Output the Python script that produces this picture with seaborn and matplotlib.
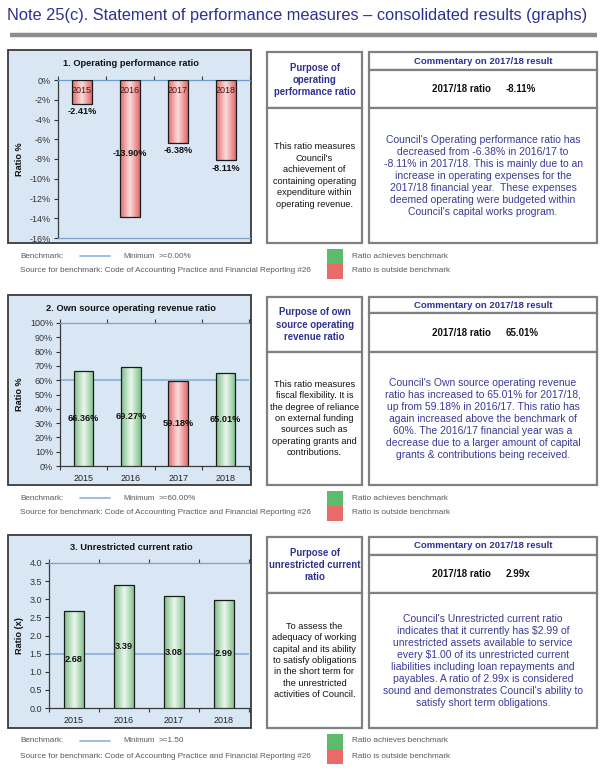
import numpy as np
import matplotlib
matplotlib.use("Agg")
import matplotlib.pyplot as plt
from matplotlib.patches import Rectangle
from matplotlib.colors import LinearSegmentedColormap
import seaborn as sns

# ---------------- data ----------------
years = ["2015", "2016", "2017", "2018"]
op_perf = [-2.41, -13.90, -6.38, -8.11]
own_source = [66.36, 69.27, 59.18, 65.01]
unrestricted = [2.68, 3.39, 3.08, 2.99]
benchmarks = [0.0, 60.0, 1.5]

chart_titles = ["1. Operating performance ratio",
                "2. Own source operating revenue ratio",
                "3. Unrestricted current ratio"]
ylabels = ["Ratio %", "Ratio %", "Ratio (x)"]
bench_text = [">=0.00%", ">=60.00%", ">=1.50"]
ratio_text = ["-8.11%", "65.01%", "2.99x"]

purpose_head = ["Purpose of\noperating\nperformance ratio",
                "Purpose of own\nsource operating\nrevenue ratio",
                "Purpose of\nunrestricted current\nratio"]
purpose_body = ["This ratio measures\nCouncil's\nachievement of\ncontaining operating\nexpenditure within\noperating revenue.",
                "This ratio measures\nfiscal flexibility. It is\nthe degree of reliance\non external funding\nsources such as\noperating grants and\ncontributions.",
                "To assess the\nadequacy of working\ncapital and its ability\nto satisfy obligations\nin the short term for\nthe unrestricted\nactivities of Council."]
commentary = ["Council's Operating performance ratio has\ndecreased from -6.38% in 2016/17 to\n-8.11% in 2017/18. This is mainly due to an\nincrease in operating expenses for the\n2017/18 financial year.  These expenses\ndeemed operating were budgeted within\nCouncil's capital works program.",
              "Council's Own source operating revenue\nratio has increased to 65.01% for 2017/18,\nup from 59.18% in 2016/17. This ratio has\nagain increased above the benchmark of\n60%. The 2016/17 financial year was a\ndecrease due to a larger amount of capital\ngrants & contributions being received.",
              "Council's Unrestricted current ratio\nindicates that it currently has \\$2.99 of\nunrestricted assets available to service\nevery \\$1.00 of its unrestricted current\nliabilities including loan repayments and\npayables. A ratio of 2.99x is considered\nsound and demonstrates Council's ability to\nsatisfy short term obligations."]

# ---------------- style ----------------
sns.set_style("white")
plt.rcParams['font.family'] = ['Liberation Sans', 'DejaVu Sans']

W, H = 605, 784
fig = plt.figure(figsize=(W / 100, H / 100), dpi=100)
bg = fig.add_axes([0, 0, 1, 1])
bg.set_xlim(0, W)
bg.set_ylim(H, 0)
bg.axis('off')

NAVY = "#2e3192"
COMM = "#3b3a96"
GREY_TXT = "#5a5a5a"
CHART_BG = "#d9e7f4"
BOX_EDGE = "#808080"
BENCH_C = "#8db2dc"
GREEN_EDGE, GREEN_MID = "#7dbf88", "#eaf6ec"
RED_EDGE, RED_MID = "#e26a6a", "#fadada"


def ax_rect(x0, y0, x1, y1):
    return [x0 / W, 1 - y1 / H, (x1 - x0) / W, (y1 - y0) / H]


# Title + rule
bg.text(7, 15, "Note 25(c). Statement of performance measures \u2013 consolidated results (graphs)",
        fontsize=11.8, color=NAVY, va='center', ha='left')
bg.plot([10, 597], [35, 35], color="#8c8c8c", lw=3.2, solid_capstyle='butt')

# section layout (pixels)
sections = [
    dict(top=50, bot=243, ax=(58, 80, 250, 238), phead=108, cdiv=70),
    dict(top=295, bot=485, ax=(60, 323, 249, 466), phead=352, cdiv=313),
    dict(top=535, bot=728, ax=(49, 563, 249, 708), phead=593, cdiv=555),
]
datasets = [op_perf, own_source, unrestricted]
ylims = [(-16, 0), (0, 100), (0, 4)]
ysteps = [2, 10, 0.5]

for i, sec in enumerate(sections):
    vals = datasets[i]
    bench = benchmarks[i]
    top, bot = sec['top'], sec['bot']

    # chart frame
    bg.add_patch(Rectangle((8, top), 243, bot - top, facecolor=CHART_BG,
                           edgecolor="#3a3a3a", lw=1.3))
    bg.text(131, top + 13, chart_titles[i], fontsize=6.7, fontweight='bold',
            ha='center', va='center', color="#111111")
    ax0, ay0, ax1, ay1 = sec['ax']
    bg.text(20, (ay0 + ay1) / 2, ylabels[i], rotation=90, fontsize=6.6,
            fontweight='bold', ha='center', va='center', color="#111111")

    ax = fig.add_axes(ax_rect(*sec['ax']))
    ax.set_facecolor(CHART_BG)
    ok = [v >= bench for v in vals]
    pal = {y: ("#b9dfbf" if o else "#eea5a5") for y, o in zip(years, ok)}
    sns.barplot(x=years, y=vals, hue=years, palette=pal, legend=False,
                width=0.41, edgecolor="#1b1b1b", linewidth=0.9, ax=ax, zorder=3)

    # gradient fill
    grad = 1 - np.abs(np.linspace(-1, 1, 64))
    grad = grad[np.newaxis, :]
    for p, o in zip(ax.patches, ok):
        cm = LinearSegmentedColormap.from_list(
            "g", [GREEN_EDGE, GREEN_MID] if o else [RED_EDGE, RED_MID])
        x0, y0, w, h = p.get_x(), p.get_y(), p.get_width(), p.get_height()
        im = ax.imshow(grad, extent=[x0, x0 + w, min(y0, y0 + h), max(y0, y0 + h)],
                       aspect='auto', cmap=cm, zorder=2.9, interpolation='bicubic')
        im.set_clip_path(p)
        p.set_facecolor('none')

    lo, hi = ylims[i]
    ax.set_xlim(-0.5, 3.5)
    ax.set_ylim(lo, hi)
    ax.set_yticks(np.arange(lo, hi + ysteps[i] / 2, ysteps[i]))
    if i == 2:
        ax.set_yticklabels([f"{t:.1f}" for t in ax.get_yticks()])
    else:
        ax.set_yticklabels([f"{t:.0f}%" for t in ax.get_yticks()])
    ax.tick_params(axis='y', labelsize=6.5, colors="#333333", length=3,
                   width=0.8, pad=2, left=True, direction='out')
    ax.set_xlabel("")
    ax.set_ylabel("")
    ax.set_xticks(range(4))
    ax.set_xticks(np.arange(-0.5, 4, 1), minor=True)

    for s in ['left', 'bottom', 'top']:
        ax.spines[s].set_visible(True)
        ax.spines[s].set_color("#3a3a3a")
        ax.spines[s].set_linewidth(0.9)
    ax.spines['right'].set_visible(False)

    if i == 0:
        ax.spines['top'].set_color("#6f9bd0")
        ax.spines['bottom'].set_color("#7d9fc8")
        ax.tick_params(axis='x', which='major', top=False, bottom=False,
                       labeltop=False, labelbottom=False)
        ax.tick_params(axis='x', which='minor', top=True, bottom=False, length=3,
                       direction='out', color="#3a3a3a", width=0.8)
        for k, (yr, v) in enumerate(zip(years, vals)):
            ax.annotate(yr, (k, 0), xytext=(0, -4), textcoords='offset points',
                        ha='center', va='top', fontsize=6.5, color="#4a1414",
                        zorder=6, annotation_clip=False)
            ypos = v / 2 if v < -10 else v - 0.35
            ax.text(k, ypos, f"{v:.2f}%", ha='center', va='top', fontsize=6.6,
                    fontweight='bold', color="#111111", zorder=5)
    else:
        ax.spines['top'].set_color("#7d9fc8")
        ax.axhline(bench, color=BENCH_C, lw=1.3, zorder=2.5)
        ax.tick_params(axis='x', which='major', bottom=False, top=False,
                       labelsize=6.5, colors="#222222", pad=2)
        ax.tick_params(axis='x', which='minor', bottom=True, top=True,
                       length=3, direction='out', color="#3a3a3a", width=0.8)
        for k, v in enumerate(vals):
            lab = f"{v:.2f}%" if i == 1 else f"{v:.2f}"
            ax.text(k, v / 2, lab, ha='center', va='center', fontsize=6.6,
                    fontweight='bold', color="#111111", zorder=5)

    # purpose box
    bg.add_patch(Rectangle((267, top + 2), 95, sec['phead'] - top - 2,
                           facecolor='white', edgecolor=BOX_EDGE, lw=1.6))
    bg.add_patch(Rectangle((267, sec['phead']), 95, bot - sec['phead'],
                           facecolor='white', edgecolor=BOX_EDGE, lw=1.6))
    bg.text(314.5, (top + 2 + sec['phead']) / 2, purpose_head[i], ha='center',
            va='center', fontsize=6.9, fontweight='bold', color=NAVY,
            linespacing=1.3)
    bg.text(314.5, (sec['phead'] + bot) / 2, purpose_body[i], ha='center',
            va='center', fontsize=6.6, color="#111111", linespacing=1.35)

    # commentary box
    bg.add_patch(Rectangle((369, top + 2), 228, sec['cdiv'] - top - 2,
                           facecolor='white', edgecolor=BOX_EDGE, lw=1.6))
    bg.add_patch(Rectangle((369, sec['cdiv']), 228, sec['phead'] - sec['cdiv'],
                           facecolor='white', edgecolor=BOX_EDGE, lw=1.6))
    bg.add_patch(Rectangle((369, sec['phead']), 228, bot - sec['phead'],
                           facecolor='white', edgecolor=BOX_EDGE, lw=1.6))
    bg.text(483, (top + 2 + sec['cdiv']) / 2, "Commentary on 2017/18 result",
            ha='center', va='center', fontsize=6.8, fontweight='bold', color=NAVY)
    rowy = (sec['cdiv'] + sec['phead']) / 2
    bg.text(491, rowy, "2017/18 ratio", ha='right', va='center', fontsize=7,
            fontweight='bold', color="#111111")
    bg.text(506, rowy, ratio_text[i], ha='left', va='center', fontsize=7,
            fontweight='bold', color="#111111")
    bg.text(483, (sec['phead'] + bot) / 2, commentary[i], ha='center',
            va='center', fontsize=7.5, color=COMM, linespacing=1.25)

    # footer
    fy = bot + 13
    bg.text(20, fy, "Benchmark:", fontsize=5.9, color=GREY_TXT, va='center')
    bg.plot([80, 110], [fy, fy], color=BENCH_C, lw=1.2)
    bg.text(123, fy, "Minimum", fontsize=5.6, color=GREY_TXT, va='center')
    bg.text(159, fy, bench_text[i], fontsize=5.9, color=GREY_TXT, va='center')
    bg.text(20, fy + 15, "Source for benchmark: Code of Accounting Practice and Financial Reporting #26",
            fontsize=5.9, color=GREY_TXT, va='center')
    bg.add_patch(Rectangle((327, fy - 7), 16, 15, facecolor="#5cbb6e", edgecolor='none'))
    bg.add_patch(Rectangle((327, fy + 8), 16, 15, facecolor="#e86a6a", edgecolor='none'))
    bg.text(352, fy, "Ratio achieves benchmark", fontsize=5.9, color=GREY_TXT, va='center')
    bg.text(352, fy + 15, "Ratio is outside benchmark", fontsize=5.9, color=GREY_TXT, va='center')

fig.savefig("out.png", dpi=100)
